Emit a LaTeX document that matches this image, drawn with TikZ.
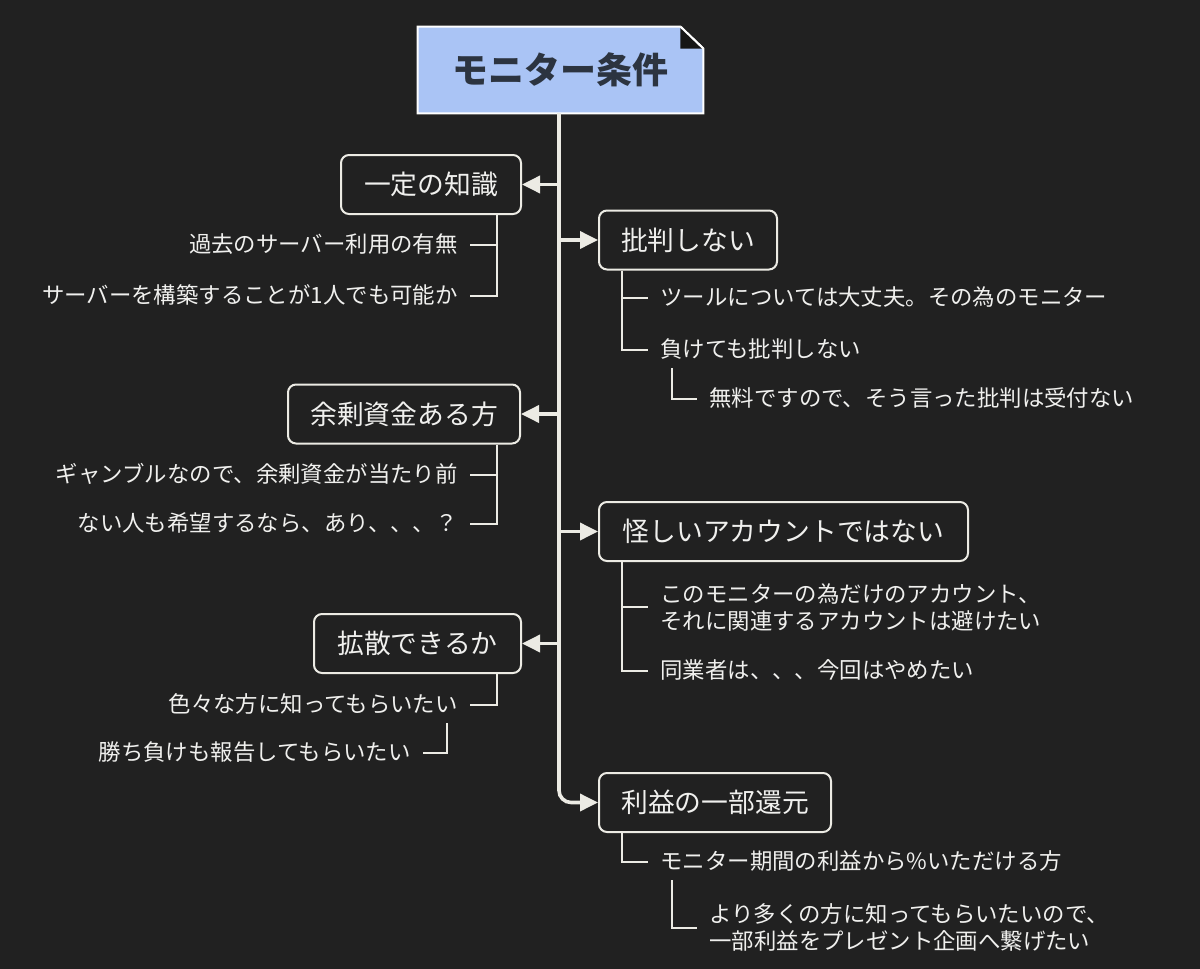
\documentclass[tikz,border=0pt]{standalone}
\usepackage{fontspec}
\setmainfont{Noto Sans CJK JP}
\usetikzlibrary{arrows.meta,backgrounds}
\definecolor{bgc}{RGB}{33,33,33}
\definecolor{linec}{RGB}{236,235,228}
\definecolor{txtc}{RGB}{240,240,238}
\definecolor{rootfill}{RGB}{170,196,245}
\definecolor{roottext}{RGB}{44,52,64}
\definecolor{foldc}{RGB}{22,22,22}
\tikzset{
  rootnode/.style={minimum width=142.5pt,minimum height=43pt,inner sep=0pt,text=roottext,font=\fontsize{18}{20}\selectfont\bfseries},
  topic/.style={draw=linec,line width=1pt,rounded corners=4pt,text=txtc,minimum height=29.5pt,inner sep=0pt,font=\fontsize{13.4}{15}\selectfont},
  lefttext/.style={anchor=east,text=txtc,inner xsep=6pt,inner ysep=4pt,text height=8.5pt,text depth=1.5pt,font=\fontsize{11.2}{13.5}\selectfont},
  righttext/.style={anchor=west,text=txtc,inner xsep=6pt,inner ysep=4pt,text height=8.5pt,text depth=1.5pt,font=\fontsize{11.2}{13.5}\selectfont},
  righttwo/.style={anchor=west,text=txtc,inner xsep=6pt,inner ysep=2pt,align=left,font=\fontsize{11.2}{13.5}\selectfont},
  trunkline/.style={draw=linec,line width=2pt},
  arr/.style={draw=linec,line width=1.8pt,-{Triangle[length=9pt,width=8.5pt]}},
  subline/.style={draw=linec,line width=1pt}
}
\begin{document}
\begin{tikzpicture}[x=0.5pt,y=-0.5pt]
\begin{scope}[on background layer]
\fill[bgc] (0,0) rectangle (1200,969);
\end{scope}
\useasboundingbox (0,0) rectangle (1200,969);

% root
\node[rootnode] (root) at (560.5,70) {モニター条件};
\begin{scope}[on background layer]
\filldraw[fill=rootfill,draw=white,line width=1pt]
  (root.south west) -- (root.north west) -- ([xshift=-11.5pt]root.north east)
  -- ([yshift=-11pt]root.north east) -- (root.south east) -- cycle;
\fill[foldc] ([xshift=-11.5pt]root.north east) -- ([xshift=-11.5pt,yshift=-11pt]root.north east) -- ([yshift=-11pt]root.north east) -- cycle;
\draw[white,line width=1pt] ([xshift=-11.5pt]root.north east) -- ([yshift=-11pt]root.north east);
\end{scope}

% topics
\node[topic,minimum width=90pt] (k1) at (431,184.5) {一定の知識};
\node[topic,minimum width=89pt] (r1) at (688,240) {批判しない};
\node[topic,minimum width=116pt] (k2) at (404,414) {余剰資金ある方};
\node[topic,minimum width=184.5pt] (r2) at (783.5,531.5) {怪しいアカウントではない};
\node[topic,minimum width=103.5pt] (k3) at (417.5,643.5) {拡散できるか};
\node[topic,minimum width=116pt] (r3) at (715,802.5) {利益の一部還元};

% trunk
\coordinate (tk) at (559,113);
\draw[arr,rounded corners=6pt] (tk) |- (r3.west);
\draw[arr] (tk |- k1.east) -- (k1.east);
\draw[arr] (tk |- r1.west) -- (r1.west);
\draw[arr] (tk |- k2.east) -- (k2.east);
\draw[arr] (tk |- r2.west) -- (r2.west);
\draw[arr] (tk |- k3.east) -- (k3.east);

% left children
\node[lefttext] (c11) at (470,245) {過去のサーバー利用の有無};
\node[lefttext] (c12) at (470,296) {サーバーを構築することが1人でも可能か};
\node[lefttext] (c21) at (470,475) {ギャンブルなので、余剰資金が当たり前};
\node[lefttext] (c22) at (470,524) {ない人も希望するなら、あり、、、？};
\node[lefttext] (c31) at (470,705) {色々な方に知ってもらいたい};
\node[lefttext] (c311) at (423,753) {勝ち負けも報告してもらいたい};

\draw[subline] ([xshift=-12.5pt]k1.south east) |- (c11.east);
\draw[subline] ([xshift=-12.5pt]k1.south east) |- (c12.east);
\draw[subline] ([xshift=-12pt]k2.south east) |- (c21.east);
\draw[subline] ([xshift=-12pt]k2.south east) |- (c22.east);
\draw[subline] ([xshift=-12.5pt]k3.south east) |- (c31.east);
\draw[subline] ([xshift=-11.5pt]c31.south east) |- (c311.east);

% right children
\node[righttext] (d11) at (648,298) {ツールについては大丈夫。その為のモニター};
\node[righttext] (d12) at (648,350) {負けても批判しない};
\node[righttext] (d121) at (697,399) {無料ですので、そう言った批判は受付ない};
\node[righttwo] (d21) at (648,607) {このモニターの為だけのアカウント、\\それに関連するアカウントは避けたい};
\node[righttext] (d22) at (648,671) {同業者は、、、今回はやめたい};
\node[righttext] (d31) at (648,862) {モニター期間の利益から\%いただける方};
\node[righttwo] (d311) at (697,927.5) {より多くの方に知ってもらいたいので、\\一部利益をプレゼント企画へ繋げたい};

\draw[subline] ([xshift=12pt]r1.south west) |- (d11.west);
\draw[subline] ([xshift=12pt]r1.south west) |- (d12.west);
\draw[subline] ([xshift=12pt]d12.south west) |- (d121.west);
\draw[subline] ([xshift=12pt]r2.south west) |- (d21.west);
\draw[subline] ([xshift=12pt]r2.south west) |- (d22.west);
\draw[subline] ([xshift=12pt]r3.south west) |- (d31.west);
\draw[subline] ([xshift=12pt]d31.south west) |- (d311.west);
\end{tikzpicture}
\end{document}
